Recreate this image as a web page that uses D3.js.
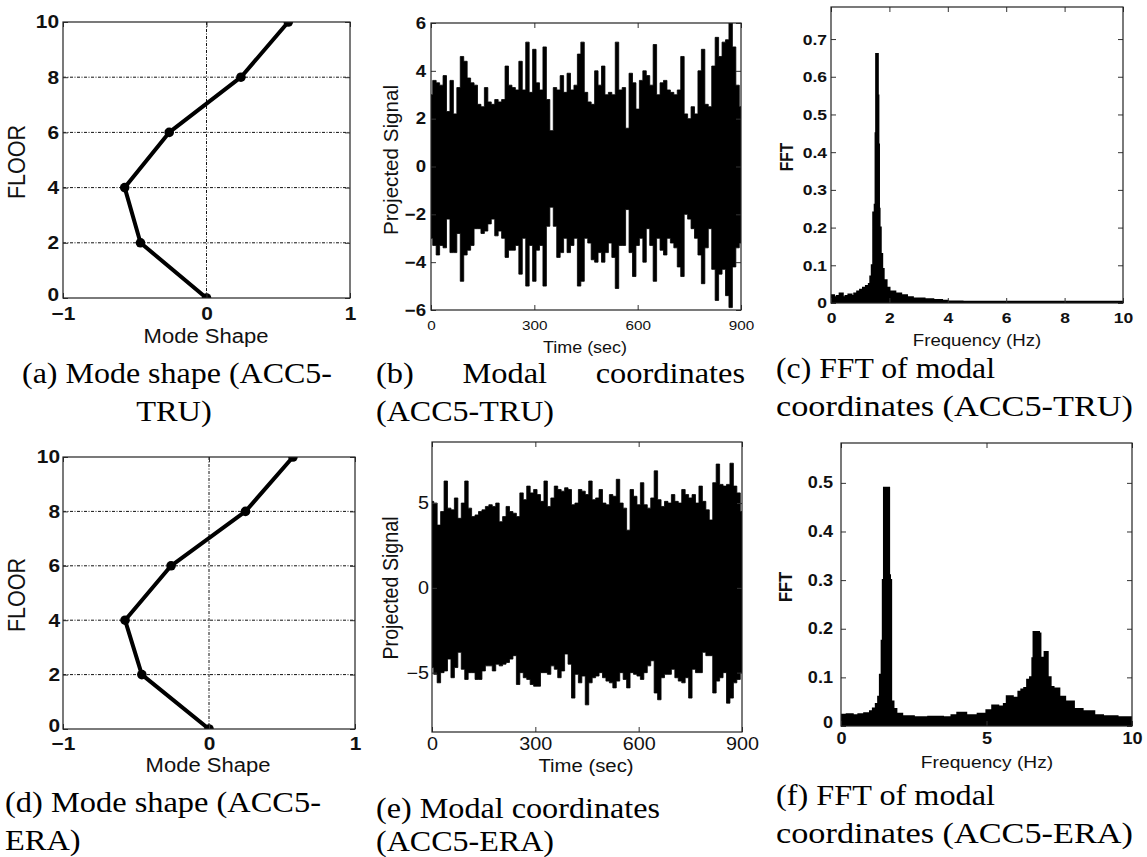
<!DOCTYPE html>
<html><head><meta charset="utf-8">
<script src="https://cdn.jsdelivr.net/npm/d3@7"></script>
<style>
body{margin:0;background:#fff;}
svg text{font-family:"Liberation Sans",Arial,Helvetica,sans-serif;fill:#111;}
svg text.cap{font-family:"Liberation Serif","Times New Roman",serif;fill:#000;}
</style></head><body>
<svg id="c" width="1147" height="857"></svg>
<script>
// ---------------- DATA ----------------
const floors = [0, 2, 4, 6, 8, 10];
const modeTRU = [0, -0.46, -0.57, -0.26, 0.24, 0.57];
const modeERA = [0, -0.46, -0.575, -0.26, 0.25, 0.575];

const timeSec = d3.range(0, 901, 10);
const sigTRUupper = [3.0,3.6,3.5,3.4,3.8,2.3,3.6,2.2,3.3,4.6,4.4,3.7,3.5,3.4,2.6,2.5,3.3,2.7,2.6,2.8,2.7,2.8,4.2,3.4,3.3,3.2,4.4,3.2,5.2,3.1,4.9,3.5,3.2,5.0,2.8,1.5,3.3,3.2,3.8,3.1,3.9,3.2,3.4,4.7,5.2,3.1,2.7,2.6,4.0,3.4,4.2,3.0,3.1,3.0,5.2,3.2,3.3,1.6,3.9,3.5,2.4,3.6,4.0,3.8,3.4,5.1,3.0,3.5,3.6,3.2,3.1,3.0,3.2,4.6,2.2,2.0,2.5,2.2,4.0,4.9,2.6,2.5,4.2,5.4,4.6,5.2,5.3,6.0,5.0,3.4,2.5];
const sigTRUlower = [-3.0,-3.3,-3.7,-3.3,-3.4,-2.2,-3.6,-3.6,-2.8,-4.8,-3.7,-3.5,-3.3,-2.6,-2.6,-2.8,-2.7,-2.4,-2.2,-2.9,-2.7,-3.0,-3.8,-3.5,-3.5,-3.3,-4.5,-3.0,-5.0,-3.3,-4.8,-3.5,-3.3,-5.0,-2.5,-1.7,-2.5,-3.8,-3.6,-3.0,-3.6,-3.3,-3.0,-5.0,-4.8,-3.0,-3.2,-3.9,-4.0,-3.6,-4.0,-3.6,-3.2,-3.8,-5.1,-3.3,-3.3,-1.8,-3.6,-4.6,-3.3,-3.0,-4.0,-2.6,-3.3,-4.8,-3.0,-3.5,-3.7,-3.0,-3.2,-3.4,-4.2,-4.6,-2.0,-2.2,-2.6,-3.0,-3.7,-4.9,-3.4,-2.6,-4.3,-5.6,-4.5,-4.3,-5.4,-5.9,-4.2,-3.4,-3.2];
const sigERAupper = [5.1,5.0,3.7,4.5,6.3,4.7,4.6,5.3,4.1,5.0,6.3,4.7,4.2,4.3,4.5,4.6,4.8,4.9,4.8,5.0,3.9,4.2,4.8,4.5,4.4,4.2,5.6,5.2,6.0,5.6,5.8,5.5,5.1,6.3,4.8,5.3,6.0,5.8,5.7,5.9,5.8,4.9,5.0,5.8,5.7,5.5,6.3,5.2,5.3,5.8,5.0,4.9,5.5,5.4,6.4,5.0,4.7,3.4,5.8,5.4,4.9,6.2,4.9,4.7,5.3,6.9,5.2,4.8,5.1,5.0,5.5,5.1,5.0,5.8,5.5,5.3,5.5,5.0,6.0,5.1,4.6,4.0,6.2,7.3,6.1,6.0,6.1,7.35,6.0,5.6,4.5];
const sigERAlower = [-4.7,-5.1,-5.6,-5.0,-4.9,-4.2,-5.3,-4.7,-3.8,-4.8,-5.4,-5.0,-5.0,-5.4,-5.4,-4.9,-4.6,-4.6,-4.9,-4.5,-4.6,-4.5,-4.4,-4.2,-4.0,-5.7,-5.0,-5.3,-5.4,-5.7,-5.8,-5.8,-5.0,-5.0,-5.1,-4.6,-4.8,-5.3,-4.9,-3.9,-4.5,-6.5,-5.1,-5.6,-5.2,-6.9,-5.6,-5.3,-5.2,-5.0,-5.3,-5.5,-5.6,-5.9,-5.5,-5.0,-5.4,-5.9,-5.0,-5.1,-5.2,-5.4,-5.0,-4.6,-4.3,-6.2,-6.6,-5.3,-5.1,-5.1,-4.8,-5.3,-5.5,-5.6,-5.3,-6.5,-4.8,-5.0,-5.0,-3.8,-4.0,-4.0,-6.2,-5.5,-5.3,-5.0,-6.8,-6.5,-5.6,-5.4,-5.0];

const freqTRU = [0,0.1,0.2,0.3,0.4,0.5,0.6,0.7,0.8,0.9,1.0,1.1,1.2,1.3,1.35,1.4,1.45,1.5,1.53,1.55,1.58,1.6,1.62,1.64,1.66,1.7,1.75,1.8,1.9,2.0,2.2,2.4,2.6,2.8,3.0,3.2,3.5,3.8,4.0,4.5,5,6,7,8,9,10];
const fftTRU = [0.02,0.015,0.018,0.025,0.015,0.018,0.022,0.018,0.025,0.03,0.035,0.04,0.045,0.05,0.07,0.1,0.24,0.26,0.45,0.66,0.66,0.55,0.42,0.25,0.2,0.13,0.09,0.06,0.04,0.03,0.025,0.02,0.015,0.012,0.012,0.01,0.008,0.006,0.004,0.003,0.003,0.003,0.003,0.003,0.003,0.003];
const freqERA = [0,0.2,0.4,0.6,0.8,1.0,1.1,1.2,1.28,1.34,1.4,1.44,1.48,1.55,1.62,1.65,1.68,1.72,1.8,1.9,2.1,2.5,3.0,3.5,3.8,4.0,4.3,4.7,5.0,5.2,5.4,5.6,5.7,5.9,6.1,6.2,6.3,6.4,6.5,6.58,6.62,6.7,6.8,6.85,6.9,7.0,7.05,7.1,7.2,7.3,7.5,7.7,8.0,8.3,8.7,9.0,9.5,10];
const fftERA = [0.023,0.024,0.022,0.024,0.026,0.03,0.036,0.045,0.06,0.105,0.175,0.3,0.49,0.49,0.49,0.31,0.3,0.05,0.035,0.025,0.02,0.018,0.019,0.018,0.022,0.027,0.022,0.025,0.032,0.042,0.04,0.045,0.061,0.058,0.07,0.075,0.078,0.095,0.1,0.139,0.193,0.193,0.19,0.139,0.14,0.152,0.152,0.1,0.08,0.077,0.06,0.05,0.035,0.03,0.022,0.02,0.018,0.02];

const floorTicks = [0, 2, 4, 6, 8, 10];
const modeTicks = [-1, 0, 1];
const timeTicks = [0, 300, 600, 900];
const sigTRUTicks = [-6, -4, -2, 0, 2, 4, 6];
const sigERATicks = [-5, 0, 5];
const freqTRUTicks = [0, 2, 4, 6, 8, 10];
const freqERATicks = [0, 5, 10];
const fftTRUTicks = [0, 0.1, 0.2, 0.3, 0.4, 0.5, 0.6, 0.7];
const fftERATicks = [0, 0.1, 0.2, 0.3, 0.4, 0.5];

const captions = [
  {lines:["(a) Mode shape (ACC5-", "TRU)"]},
  {lines:["(b) Modal coordinates", "(ACC5-TRU)"]},
  {lines:["(c) FFT of modal", "coordinates (ACC5-TRU)"]},
  {lines:["(d) Mode shape (ACC5-", "ERA)"]},
  {lines:["(e) Modal coordinates", "(ACC5-ERA)"]},
  {lines:["(f) FFT of modal", "coordinates (ACC5-ERA)"]}
];

// ---------------- DRAW ----------------
const SX = 1.13;  // horizontal stretch of the source figure's text
const svg = d3.select('#c');
const defs = svg.append('defs');
let clipN = 0;

function fmtNum(d){ return d === 0 ? '0' : (Number.isInteger(d) ? d3.format('d')(d) : d3.format('.1f')(d)); }

function label(parent, o, rotated){
  const g = parent.append('g').attr('transform',
    `translate(${o.x},${o.y}) scale(${SX},1)` + (rotated ? ' rotate(-90)' : ''));
  const t = g.append('text').attr('text-anchor','middle').attr('fill','#000')
    .style('font-size', o.size+'px').style('font-weight', o.weight||'normal').text(o.text);
  if (o.len) t.attr('textLength', o.len/(rotated?1:SX)).attr('lengthAdjust','spacingAndGlyphs');
  return t;
}

function panel(cfg){
  const {L,T,R,B} = cfg.box;
  const x = d3.scaleLinear().domain(cfg.xDomain).range([L,R]);
  const y = d3.scaleLinear().domain(cfg.yDomain).range([B,T]);
  const g = svg.append('g');
  const id = 'clip' + (clipN++);
  defs.append('clipPath').attr('id', id).append('rect')
    .attr('x', L).attr('y', T).attr('width', R-L).attr('height', B-T);

  const dash = '3,1.5,1,1.5';
  if (cfg.gridY){
    g.selectAll('line.gy').data(cfg.gridY).join('line').attr('class','gy')
      .attr('x1', L).attr('x2', R).attr('y1', d=>y(d)).attr('y2', d=>y(d))
      .attr('stroke','#111').attr('stroke-width',1).attr('stroke-dasharray',dash);
  }
  if (cfg.gridX){
    g.selectAll('line.gx').data(cfg.gridX).join('line').attr('class','gx')
      .attr('y1', T).attr('y2', B).attr('x1', d=>x(d)).attr('x2', d=>x(d))
      .attr('stroke','#111').attr('stroke-width',1).attr('stroke-dasharray',dash);
  }

  const mg = g.append('g').attr('clip-path', `url(#${id})`);
  cfg.draw(mg, x, y);

  const tl = 5;
  const bx = g.append('g').attr('transform',`translate(0,${B})`)
    .call(d3.axisBottom(x).tickValues(cfg.xTicks).tickFormat(fmtNum).tickSizeInner(-tl).tickSizeOuter(0).tickPadding(cfg.xPad));
  const tx = g.append('g').attr('transform',`translate(0,${T})`)
    .call(d3.axisTop(x).tickValues(cfg.xTicks).tickFormat('').tickSizeInner(-tl).tickSizeOuter(0));
  const ly = g.append('g').attr('transform',`translate(${L},0)`)
    .call(d3.axisLeft(y).tickValues(cfg.yTicks).tickFormat(fmtNum).tickSizeInner(-tl).tickSizeOuter(0).tickPadding(cfg.yPad));
  const ry = g.append('g').attr('transform',`translate(${R},0)`)
    .call(d3.axisRight(y).tickValues(cfg.yTicks).tickFormat('').tickSizeInner(-tl).tickSizeOuter(0));
  [bx,tx,ly,ry].forEach(a=>{ a.select('.domain').remove(); a.selectAll('line').attr('stroke','#333'); });
  bx.selectAll('text').attr('transform',`scale(${SX},1)`)
    .style('font-size', cfg.xTickFont+'px').style('font-weight', cfg.xTickWeight)
    .style('font-family','"Liberation Sans",Arial,sans-serif').attr('fill','#111');
  ly.selectAll('text').attr('transform',`scale(${SX},1)`).attr('x', -cfg.yPad/SX)
    .attr('dy', d => d === cfg.yDomain[0] ? (cfg.lowDy || '0.32em') : '0.32em')
    .style('font-size', cfg.yTickFont+'px').style('font-weight', cfg.yTickWeight)
    .style('font-family','"Liberation Sans",Arial,sans-serif').attr('fill','#111');

  g.append('rect').attr('x',L).attr('y',T).attr('width',R-L).attr('height',B-T)
    .attr('fill','none').attr('stroke','#222').attr('stroke-width',1.2);

  label(g, cfg.xLabel, false);
  label(g, cfg.yLabel, true);
}

function modeDraw(vals){
  return (g, x, y) => {
    const pts = floors.map((f,i)=>({f, v: vals[i]}));
    g.append('path').datum(pts)
      .attr('d', d3.line().x(d=>x(d.v)).y(d=>y(d.f)))
      .attr('fill','none').attr('stroke','#000').attr('stroke-width',4).attr('stroke-linejoin','round');
    g.selectAll('circle').data(pts).join('circle')
      .attr('cx', d=>x(d.v)).attr('cy', d=>y(d.f)).attr('r',4.8).attr('fill','#000');
  };
}
function sigDraw(up, lo){
  return (g, x, y) => {
    const pts = timeSec.map((t,i)=>({t, u: up[i], l: lo[i]}));
    g.append('path').datum(pts)
      .attr('d', d3.area().x(d=>x(d.t)).y0(d=>y(d.l)).y1(d=>y(d.u)).curve(d3.curveStep))
      .attr('fill','#000').attr('stroke','#000').attr('stroke-width',0.8);
  };
}
function fftDraw(fr, vals){
  return (g, x, y) => {
    const pts = fr.map((f,i)=>({f, v: vals[i]}));
    g.append('path').datum(pts)
      .attr('d', d3.area().x(d=>x(d.f)).y0(y(0)).y1(d=>y(d.v)).curve(d3.curveStepAfter))
      .attr('fill','#000').attr('stroke','#000').attr('stroke-width',2.2);
  };
}

// (a)
panel({box:{L:63,T:22,R:350,B:298}, xDomain:[-1,1], yDomain:[0,10],
  xTicks:modeTicks, yTicks:floorTicks, gridY:[2,4,6,8], gridX:[0], lowDy:'0.12em',
  xPad:9, yPad:4, xTickFont:18.5, yTickFont:18.5, xTickWeight:'bold', yTickWeight:'bold',
  xLabel:{text:'Mode Shape', x:206, y:343, size:19.5},
  yLabel:{text:'FLOOR', x:25, y:162, size:21.5},
  draw: modeDraw(modeTRU)});
// (b)
panel({box:{L:431,T:23,R:741,B:310}, xDomain:[0,900], yDomain:[-6,6],
  xTicks:timeTicks, yTicks:sigTRUTicks,
  xPad:10, yPad:5, xTickFont:13.5, yTickFont:16.5, xTickWeight:'normal', yTickWeight:'bold',
  xLabel:{text:'Time (sec)', x:585, y:353, size:16, len:84},
  yLabel:{text:'Projected Signal', x:398, y:160, size:18, len:150},
  draw: sigDraw(sigTRUupper, sigTRUlower)});
// (c)
panel({box:{L:831,T:7,R:1123,B:303}, xDomain:[0,10], yDomain:[0,0.785],
  xTicks:freqTRUTicks, yTicks:fftTRUTicks,
  xPad:9, yPad:4, xTickFont:15.5, yTickFont:15.5, xTickWeight:'bold', yTickWeight:'bold',
  xLabel:{text:'Frequency (Hz)', x:977, y:346, size:16.5},
  yLabel:{text:'FFT', x:793, y:157, size:15.5, weight:'bold'},
  draw: fftDraw(freqTRU, fftTRU)});
// (d)
panel({box:{L:63,T:457,R:355,B:729}, xDomain:[-1,1], yDomain:[0,10],
  xTicks:modeTicks, yTicks:floorTicks, gridY:[2,4,6,8], gridX:[0], lowDy:'0.12em',
  xPad:8, yPad:3, xTickFont:18.5, yTickFont:18.5, xTickWeight:'bold', yTickWeight:'bold',
  xLabel:{text:'Mode Shape', x:208, y:772, size:19.5},
  yLabel:{text:'FLOOR', x:25, y:595, size:21.5},
  draw: modeDraw(modeERA)});
// (e)
panel({box:{L:432,T:442,R:742,B:732}, xDomain:[0,900], yDomain:[-8.5,8.6],
  xTicks:timeTicks, yTicks:sigERATicks,
  xPad:6, yPad:3, xTickFont:17.5, yTickFont:17.5, xTickWeight:'normal', yTickWeight:'normal',
  xLabel:{text:'Time (sec)', x:586, y:772, size:18},
  yLabel:{text:'Projected Signal', x:398, y:588, size:19, len:143},
  draw: sigDraw(sigERAupper, sigERAlower)});
// (f)
panel({box:{L:841,T:443,R:1132,B:726}, xDomain:[0,10], yDomain:[0,0.582],
  xTicks:freqERATicks, yTicks:fftERATicks, lowDy:'0.1em',
  xPad:7, yPad:8, xTickFont:16, yTickFont:16, xTickWeight:'bold', yTickWeight:'bold',
  xLabel:{text:'Frequency (Hz)', x:987, y:768, size:17},
  yLabel:{text:'FFT', x:792, y:587, size:16.5, weight:'bold'},
  draw: fftDraw(freqERA, fftERA)});

// ---------------- CAPTIONS ----------------
const CAP_FS = 30, CSX = 1.08;
function capText(str, x, y, anchor, len){
  const g = svg.append('g').attr('transform', `translate(${x},${y}) scale(${CSX},1)`);
  const t = g.append('text').attr('class','cap').attr('text-anchor', anchor||'start')
    .style('font-size', CAP_FS+'px').text(str);
  if (len) t.attr('textLength', len/CSX).attr('lengthAdjust','spacingAndGlyphs');
  return t;
}
function justify(str, x0, x1, y){
  const words = str.split(' ');
  const tmp = words.map(w => capText(w, 0, -100));
  const ws = tmp.map(t => t.node().getComputedTextLength()*CSX);
  tmp.forEach(t => t.node().parentNode.remove());
  const gap = ((x1-x0) - d3.sum(ws)) / (words.length-1);
  let cx = x0;
  words.forEach((w,i)=>{ capText(w, cx, y); cx += ws[i] + gap; });
}
// (a)
capText(captions[0].lines[0], 22, 383, 'start', 310);
capText(captions[0].lines[1], 174, 421, 'middle');
// (b)
justify(captions[1].lines[0], 376, 745, 383);
capText(captions[1].lines[1], 376, 421, 'start', 178);
// (c)
capText(captions[2].lines[0], 776, 378, 'start', 219);
capText(captions[2].lines[1], 776, 416, 'start', 357);
// (d)
capText(captions[3].lines[0], 5, 812, 'start', 316);
capText(captions[3].lines[1], 5, 850);
// (e)
capText(captions[4].lines[0], 376, 818, 'start', 284);
capText(captions[4].lines[1], 376, 851, 'start', 178);
// (f)
capText(captions[5].lines[0], 776, 805, 'start', 219);
capText(captions[5].lines[1], 776, 843, 'start', 357);
</script></body></html>
